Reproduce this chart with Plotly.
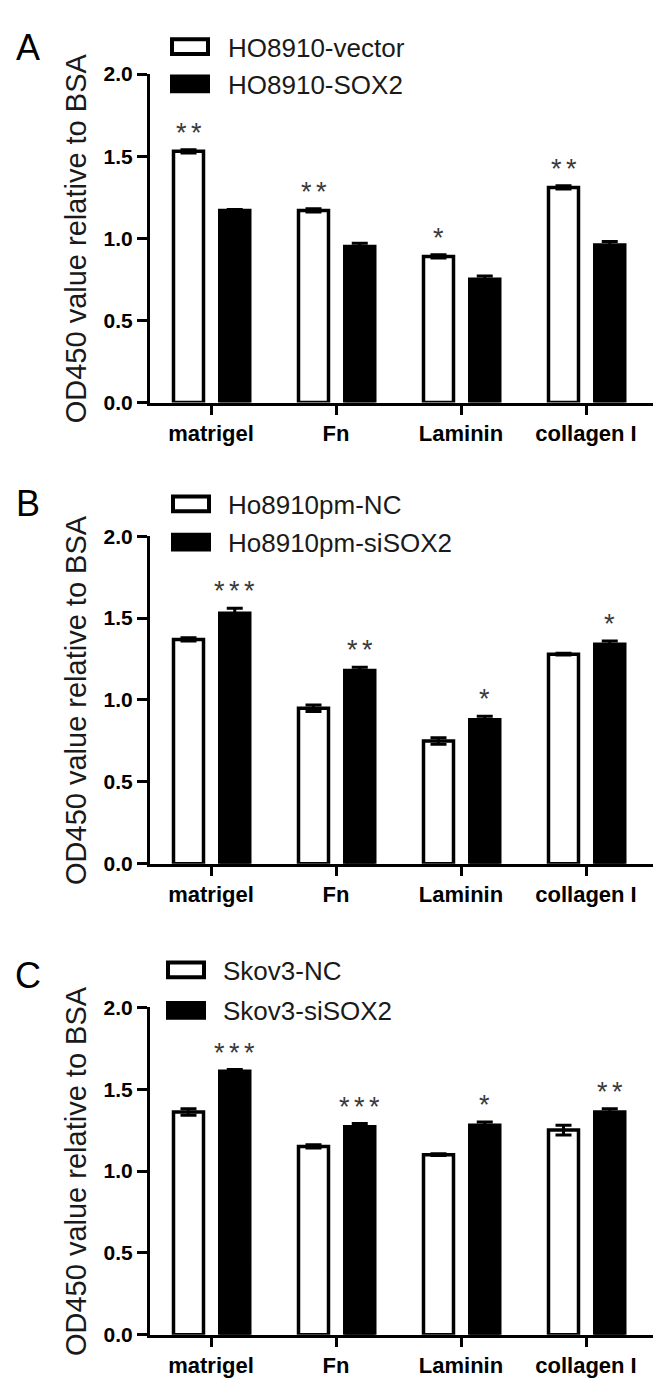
import plotly.graph_objects as go

W, H = 662, 1383

categories = ["matrigel", "Fn", "Laminin", "collagen I"]
yticks = [0.0, 0.5, 1.0, 1.5, 2.0]
ytick_text = ["0.0", "0.5", "1.0", "1.5", "2.0"]

SP = "\u2006"

# Panel A
a_names = ["HO8910-vector", "HO8910-SOX2"]
a_vector = [1.53, 1.17, 0.89, 1.31]
a_vector_err = [0.01, 0.01, 0.01, 0.01]
a_sox2 = [1.17, 0.95, 0.75, 0.96]
a_sox2_err = [0.005, 0.02, 0.02, 0.02]
a_stars_white = ["**", "**", "*", "**"]
a_stars_black = ["", "", "", ""]

# Panel B
b_names = ["Ho8910pm-NC", "Ho8910pm-siSOX2"]
b_nc = [1.37, 0.95, 0.75, 1.28]
b_nc_err = [0.01, 0.02, 0.02, 0.005]
b_si = [1.53, 1.18, 0.88, 1.34]
b_si_err = [0.03, 0.02, 0.02, 0.02]
b_stars_white = ["", "", "", ""]
b_stars_black = ["***", "**", "*", "*"]

# Panel C
c_names = ["Skov3-NC", "Skov3-siSOX2"]
c_nc = [1.36, 1.15, 1.10, 1.25]
c_nc_err = [0.02, 0.01, 0.005, 0.03]
c_si = [1.61, 1.27, 1.28, 1.36]
c_si_err = [0.01, 0.02, 0.02, 0.02]
c_stars_white = ["", "", "", ""]
c_stars_black = ["***", "***", "*", "**"]

FONT = "Liberation Sans, Arial, sans-serif"

panels = [
    dict(letter="A", names=a_names, w=a_vector, we=a_vector_err, b=a_sox2, be=a_sox2_err,
         sw=a_stars_white, sb=a_stars_black, top=55, bottom=389,
         letter_y=25, leg_x=162, leg_rows=(27, 65), text_x=218),
    dict(letter="B", names=b_names, w=b_nc, we=b_nc_err, b=b_si, be=b_si_err,
         sw=b_stars_white, sb=b_stars_black, top=525, bottom=858,
         letter_y=489, leg_x=163, leg_rows=(492, 531), text_x=218),
    dict(letter="C", names=c_names, w=c_nc, we=c_nc_err, b=c_si, be=c_si_err,
         sw=c_stars_white, sb=c_stars_black, top=1004, bottom=1337,
         letter_y=969, leg_x=158, leg_rows=(966, 1007), text_x=213),
]

def px(x):
    return x / W

def py(y):
    return 1 - y / H

BW = 0.24
W_CENTER = -0.18
B_CENTER = 0.19
xpos = list(range(len(categories)))

fig = go.Figure()
annotations = []
shapes = []

for i, p in enumerate(panels):
    sfx = "" if i == 0 else str(i + 1)
    xa, ya = "x" + sfx, "y" + sfx
    fig.add_trace(go.Bar(
        x=xpos, y=p["w"], width=BW, offset=W_CENTER - BW / 2,
        marker=dict(color="white", line=dict(color="black", width=3.5)),
        error_y=dict(type="data", array=p["we"], color="black", thickness=3, width=8, visible=True),
        xaxis=xa, yaxis=ya, showlegend=False, name=p["names"][0]))
    fig.add_trace(go.Bar(
        x=xpos, y=p["b"], width=BW, offset=B_CENTER - BW / 2,
        marker=dict(color="black", line=dict(color="black", width=3.5)),
        error_y=dict(type="data", array=p["be"], color="black", thickness=3, width=8, visible=True),
        xaxis=xa, yaxis=ya, showlegend=False, name=p["names"][1]))

    dom_y = [py(p["bottom"]), py(p["top"])]
    xkey = "xaxis" + sfx
    ykey = "yaxis" + sfx
    fig.update_layout(**{
        xkey: dict(domain=[px(142), px(645)], range=[-0.488, 3.536], anchor=ya,
                   tickmode="array", tickvals=xpos, ticktext=categories,
                   showline=True, linecolor="black", linewidth=3,
                   ticks="outside", ticklen=9, tickwidth=3, tickcolor="black",
                   showgrid=False, zeroline=False,
                   tickfont=dict(family=FONT, size=22, color="black", weight="bold")),
        ykey: dict(domain=dom_y, range=[0, 2.0], anchor=xa,
                   tickmode="array", tickvals=yticks, ticktext=ytick_text,
                   showline=True, linecolor="black", linewidth=3,
                   ticks="outside", ticklen=10, tickwidth=3, tickcolor="black",
                   showgrid=False, zeroline=False,
                   tickfont=dict(family=FONT, size=21, color="black", weight="bold")),
    })

    # significance stars
    for j in range(len(categories)):
        for stars, vals, errs, c in ((p["sw"], p["w"], p["we"], W_CENTER),
                                     (p["sb"], p["b"], p["be"], B_CENTER)):
            if stars[j]:
                annotations.append(dict(
                    x=j + c, y=vals[j] + errs[j], xref=xa, yref=ya,
                    text=SP.join(stars[j]), showarrow=False, yanchor="bottom", xanchor="center",
                    yshift=0, font=dict(family=FONT, size=27, color="#3a3a3a")))

    # axis title
    annotations.append(dict(
        x=px(68), y=py((p["top"] + p["bottom"]) / 2), xref="paper", yref="paper",
        text="OD450 value relative to BSA", textangle=-90, showarrow=False,
        xanchor="center", yanchor="middle",
        font=dict(family=FONT, size=29, color="#1a1a1a")))

    # panel letter
    annotations.append(dict(
        x=px(20), y=py(p["letter_y"] + 3), xref="paper", yref="paper",
        text=p["letter"], showarrow=False, xanchor="center", yanchor="middle",
        font=dict(family=FONT, size=36, color="black")))

    # custom legend
    for k, (fill, name) in enumerate((("white", p["names"][0]), ("black", p["names"][1]))):
        cy = p["leg_rows"][k]
        shapes.append(dict(
            type="rect", xref="paper", yref="paper",
            x0=px(p["leg_x"] + 2), x1=px(p["leg_x"] + 38),
            y0=py(cy + 7.5), y1=py(cy - 7.5),
            line=dict(color="black", width=4), fillcolor=fill))
        annotations.append(dict(
            x=px(p["text_x"]), y=py(cy + 1), xref="paper", yref="paper",
            text=name, showarrow=False, xanchor="left", yanchor="middle",
            font=dict(family=FONT, size=26, color="#1a1a1a")))

fig.update_layout(
    width=W, height=H,
    margin=dict(l=0, r=0, t=0, b=0),
    paper_bgcolor="white", plot_bgcolor="white",
    barmode="overlay",
    annotations=annotations, shapes=shapes,
    showlegend=False,
)

fig.write_html("out.html")
